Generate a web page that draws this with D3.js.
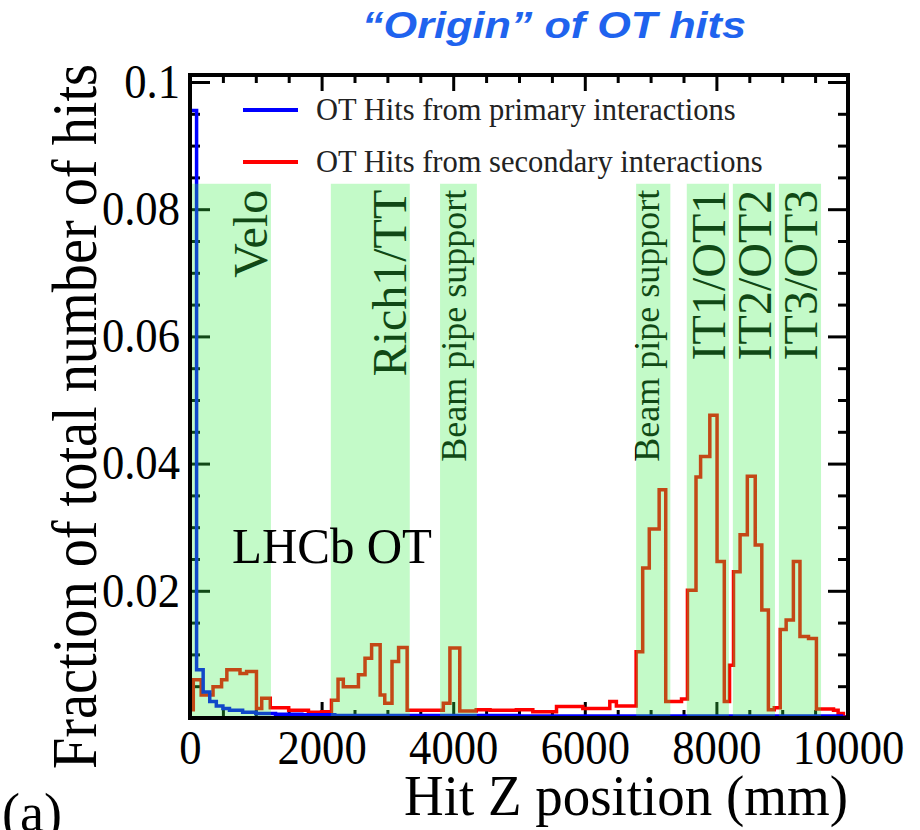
<!DOCTYPE html>
<html>
<head>
<meta charset="utf-8">
<script src="https://cdn.jsdelivr.net/npm/d3@7"></script>
<style>
body { margin: 0; background: #fff; }
text { font-family: "Liberation Serif", "Times New Roman", serif; }
</style>
</head>
<body>
<div id="chart"></div>
<script>
// hit z histograms (left bin edge in mm, fraction of hits)
var priEdges  = [0, 100, 200, 300, 400, 500, 600, 800, 1000, 1300, 1700, 2200, 3000, 5000, 8000, 9900];
var priValues = [0.0955, 0.0076, 0.0041, 0.0026, 0.0019, 0.0015, 0.0012, 0.0009, 0.0007, 0.0006,
                 0.0005, 0.0004, 0.0004, 0.0003, 0.0003, 0.0001];

var secEdges = [0, 50, 170, 350, 480, 560, 760, 860, 1010, 1090,
                1220, 1500, 1800, 2000, 2150, 2250, 2330, 2560, 2660, 2760,
                2890, 2960, 3070, 3170, 3300, 3850, 3950, 4100, 4350, 4560,
                4960, 5210, 5570, 5970, 6380, 6480, 6780, 6880, 6980, 7130,
                7230, 7470, 7560, 7690, 7760, 7900, 8010, 8120, 8200, 8260,
                8360, 8470, 8590, 8690, 8790, 8880, 8970, 9060, 9170, 9270,
                9400, 9520, 9780, 9850, 9930];
var secValues = [0.0013, 0.0060, 0.0036, 0.0049, 0.0060, 0.0076, 0.0070, 0.0073, 0.0015, 0.0031,
                 0.0016, 0.0012, 0.0009, 0.0010, 0.0028, 0.0061, 0.0049, 0.0068, 0.0094, 0.0115,
                 0.0036, 0.0023, 0.0089, 0.0111, 0.0012, 0.0023, 0.0110, 0.0011, 0.0013, 0.0012,
                 0.0013, 0.0010, 0.0018, 0.0015, 0.0026, 0.0019, 0.0104, 0.0236, 0.0297, 0.0359,
                 0.0026, 0.0030, 0.0201, 0.0379, 0.0411, 0.0476, 0.0246, 0.0026, 0.0083, 0.0230,
                 0.0288, 0.0380, 0.0272, 0.0170, 0.0013, 0.0016, 0.0139, 0.0154, 0.0246, 0.0128,
                 0.0125, 0.0014, 0.0012, 0.0007, 0.0002];

// detector regions (mm)
var bandNames = ["Velo", "Rich1/TT", "Beam pipe support", "Beam pipe support", "IT1/OT1", "IT2/OT2", "IT3/OT3"];
var bandStart = [0, 2140, 3800, 6780, 7550, 8250, 8950];
var bandEnd   = [1230, 3340, 4360, 7300, 8190, 8890, 9590];
var bandTop = 0.084;

var xMajor = [0, 2000, 4000, 6000, 8000, 10000];
var yMajor = [0.02, 0.04, 0.06, 0.08, 0.1];
var legendLabels = ["OT Hits from primary interactions", "OT Hits from secondary interactions"];
var zMax = 10000, yMax = 0.1011;

var width = 920, height = 830,
    margin = {left: 190, top: 75, right: 72, bottom: 112};

var svg = d3.select("#chart").append("svg")
    .attr("width", width)
    .attr("height", height);

svg.append("rect").attr("width", width).attr("height", height).attr("fill", "#fff");

var x = d3.scaleLinear().domain([0, zMax]).range([margin.left, width - margin.right]);
var y = d3.scaleLinear().domain([0, yMax]).range([height - margin.bottom, margin.top]);

var x0 = x.range()[0], x1 = x.range()[1], y0 = y.range()[0], y1 = y.range()[1];

// squeeze a text to a given length (the original font runs narrow)
function squeeze(sel, len) {
  sel.attr("textLength", len).attr("lengthAdjust", "spacingAndGlyphs");
}

// ticks (inward, on all four sides)
var xMinor = d3.range(500, zMax, 500).filter(d => d % 2000 !== 0);
var yMinor = d3.range(0.005, 0.1, 0.005).filter(d => Math.abs(d / 0.02 - Math.round(d / 0.02)) > 1e-6);

function tickAxis(axis, tr) {
  var g = svg.append("g").attr("transform", tr).call(axis);
  g.select(".domain").remove();
  g.selectAll(".tick line").attr("stroke", "#000").attr("stroke-width", 3);
  return g;
}

tickAxis(d3.axisBottom(x).tickValues(xMinor).tickSize(-8).tickFormat(""), `translate(0,${y0})`);
tickAxis(d3.axisTop(x).tickValues(xMinor).tickSize(-8).tickFormat(""), `translate(0,${y1})`);
tickAxis(d3.axisTop(x).tickValues(xMajor).tickSize(-16).tickFormat(""), `translate(0,${y1})`);
tickAxis(d3.axisLeft(y).tickValues(yMinor).tickSize(-10).tickFormat(""), `translate(${x0},0)`);
tickAxis(d3.axisRight(y).tickValues(yMinor).tickSize(-10).tickFormat(""), `translate(${x1},0)`);
tickAxis(d3.axisRight(y).tickValues(yMajor).tickSize(-20).tickFormat(""), `translate(${x1},0)`);

var xAxisG = tickAxis(d3.axisBottom(x).tickValues(xMajor).tickSize(-16).tickPadding(12)
    .tickFormat(d3.format("d")), `translate(0,${y0})`);
xAxisG.selectAll("text").attr("font-size", 48).attr("fill", "#000")
    .style("font-family", "'Liberation Serif', serif")
    .each(function() { d3.select(this).call(squeeze, this.getComputedTextLength() * 0.93); });

var yAxisG = tickAxis(d3.axisLeft(y).tickValues(yMajor).tickSize(-20).tickPadding(10)
    .tickFormat(d3.format("~g")), `translate(${x0},0)`);
yAxisG.selectAll("text").attr("font-size", 48).attr("fill", "#000")
    .style("font-family", "'Liberation Serif', serif")
    .each(function() { d3.select(this).call(squeeze, this.getComputedTextLength() * 0.93); });

// histograms as step lines
function stepPoints(edges, values) {
  var pts = [[edges[0], 0]];
  edges.forEach(function(e, i) { pts.push([e, values[i]]); });
  pts.push([zMax, values[values.length - 1]]);
  pts.push([zMax, 0]);
  return pts;
}

var step = d3.line()
    .x(d => x(d[0]))
    .y(d => y(d[1]))
    .curve(d3.curveStepAfter);

svg.append("path")
    .attr("d", step(stepPoints(secEdges, secValues)))
    .attr("fill", "none").attr("stroke", "#ff0000").attr("stroke-width", 3.5);

svg.append("path")
    .attr("d", step(stepPoints(priEdges, priValues)))
    .attr("fill", "none").attr("stroke", "#0000ff").attr("stroke-width", 3.5);

// region labels sit under the translucent bands, so they come out dark green
bandNames.forEach(function(name, i) {
  var small = name.indexOf("Beam") === 0;
  svg.append("text")
      .attr("transform", `translate(${x(bandEnd[i]) - (small ? 11 : 4)},${y(bandTop) + 6}) rotate(-90)`)
      .attr("text-anchor", "end")
      .attr("font-size", small ? 36 : 48)
      .attr("fill", "#000")
      .text(name);
});

svg.append("g").selectAll("rect")
  .data(bandNames)
  .join("rect")
    .attr("x", (d, i) => x(bandStart[i]))
    .attr("width", (d, i) => x(bandEnd[i]) - x(bandStart[i]))
    .attr("y", y(bandTop))
    .attr("height", y(0) - y(bandTop))
    .attr("fill", "rgb(55,238,72)")
    .attr("fill-opacity", 0.3);

// frame
svg.append("rect")
    .attr("x", x0).attr("y", y1)
    .attr("width", x1 - x0).attr("height", y0 - y1)
    .attr("fill", "none").attr("stroke", "#000").attr("stroke-width", 4);

// legend
var legend = svg.append("g");
legendLabels.forEach(function(label, i) {
  var ly = 110 + i * 52;
  legend.append("line")
      .attr("x1", 243).attr("x2", 298).attr("y1", ly).attr("y2", ly)
      .attr("stroke", i === 0 ? "#0000ff" : "#ff0000").attr("stroke-width", 4);
  legend.append("text")
      .attr("x", 316).attr("y", ly).attr("dy", "0.33em")
      .attr("font-size", 30.5).attr("fill", "#222")
      .text(label);
});

svg.append("text")
    .attr("x", 232).attr("y", 563)
    .attr("font-size", 50)
    .text("LHCb OT")
    .call(squeeze, 200);

// axis titles
svg.append("text")
    .attr("x", x1).attr("y", 815)
    .attr("text-anchor", "end")
    .attr("font-size", 58)
    .text("Hit Z position (mm)")
    .call(squeeze, 444);

svg.append("text")
    .attr("transform", `translate(96,${(y0 + y1) / 2 + 20}) rotate(-90)`)
    .attr("text-anchor", "middle")
    .attr("font-size", 64)
    .text("Fraction of total number of hits")
    .call(squeeze, 705);

svg.append("text")
    .attr("x", 2).attr("y", 831)
    .attr("font-size", 54)
    .text("(a)");

svg.append("text")
    .attr("x", 554).attr("y", 38)
    .attr("text-anchor", "middle")
    .attr("font-size", 36)
    .attr("font-weight", "bold")
    .attr("font-style", "italic")
    .attr("fill", "#1f63ee")
    .style("font-family", "'Liberation Sans', Arial, sans-serif")
    .text("\u201COrigin\u201D of OT hits")
    .call(squeeze, 384);
</script>
</body>
</html>
